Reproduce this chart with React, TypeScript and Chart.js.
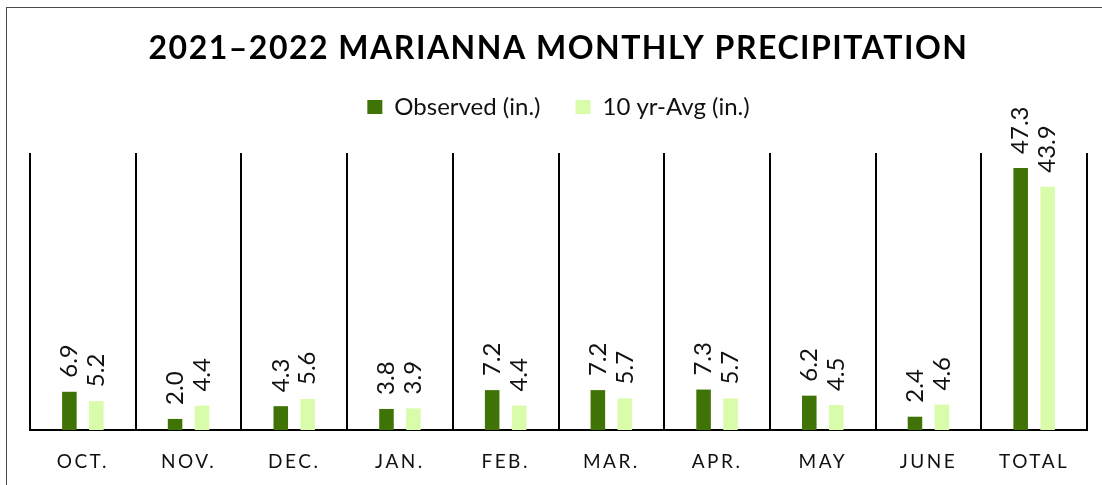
import React, { useEffect, useRef } from 'react';
import { Chart, registerables } from 'chart.js';

Chart.register(...registerables);

const TITLE = '2021–2022 MARIANNA MONTHLY PRECIPITATION';
const categories = ['OCT.', 'NOV.', 'DEC.', 'JAN.', 'FEB.', 'MAR.', 'APR.', 'MAY', 'JUNE', 'TOTAL'];
const observed = [6.9, 2.0, 4.3, 3.8, 7.2, 7.2, 7.3, 6.2, 2.4, 47.3];
const tenYearAvg = [5.2, 4.4, 5.6, 3.9, 4.4, 5.7, 5.7, 4.5, 4.6, 43.9];
const seriesNames = ['Observed (in.)', '10 yr-Avg (in.)'];
const seriesColors = ['#407305', '#d9fcab'];
const Y_MAX = 50;

const FONT = 'Lato';
const TITLE_SPACING = '1.5px';
const TICK_SPACING = '2.5px';

const framePlugin = {
  id: 'frame',
  beforeDraw(chart: any) {
    const ctx = chart.ctx;
    ctx.save();
    ctx.strokeStyle = '#4a4a4a';
    ctx.lineWidth = 1;
    ctx.strokeRect(6.5, 7.5, 1300, 700);
    ctx.restore();

    const tb = chart.titleBlock;
    if (tb && !tb._lsWrapped) {
      const orig = tb.draw.bind(tb);
      tb.draw = (...a: any[]) => {
        ctx.save();
        ctx.letterSpacing = TITLE_SPACING;
        orig(...a);
        ctx.restore();
      };
      tb._lsWrapped = true;
    }
    const xs = chart.scales.x;
    if (xs && !xs._lsWrapped) {
      const origL = xs.drawLabels.bind(xs);
      xs.drawLabels = (...a: any[]) => {
        ctx.save();
        ctx.letterSpacing = TICK_SPACING;
        origL(...a);
        ctx.restore();
      };
      xs._lsWrapped = true;
    }
  },
};

const labelPlugin = {
  id: 'barLabels',
  afterDatasetsDraw(chart: any) {
    const ctx = chart.ctx;
    chart.data.datasets.forEach((ds: any, i: number) => {
      const meta = chart.getDatasetMeta(i);
      meta.data.forEach((bar: any, j: number) => {
        const { x, y } = bar.getProps(['x', 'y'], true);
        ctx.save();
        ctx.translate(x, y - 14);
        ctx.rotate(-Math.PI / 2);
        ctx.font = `24px ${FONT}`;
        ctx.fillStyle = '#111111';
        ctx.textAlign = 'left';
        ctx.textBaseline = 'middle';
        ctx.fillText(Number(ds.data[j]).toFixed(1), 0, 0);
        ctx.restore();
      });
    });
  },
};

export default function App() {
  const ref = useRef<HTMLCanvasElement>(null);

  useEffect(() => {
    if (!ref.current) return;
    const chart = new Chart(ref.current, {
      type: 'bar',
      data: {
        labels: categories,
        datasets: [
          {
            label: seriesNames[0],
            data: observed,
            backgroundColor: seriesColors[0],
            borderWidth: 0,
            categoryPercentage: 0.51,
            barPercentage: 0.54,
          },
          {
            label: seriesNames[1],
            data: tenYearAvg,
            backgroundColor: seriesColors[1],
            borderWidth: 0,
            categoryPercentage: 0.51,
            barPercentage: 0.54,
          },
        ],
      },
      options: {
        responsive: false,
        animation: false,
        events: [],
        layout: { padding: { top: 10, left: 30, right: 15, bottom: 0 } },
        plugins: {
          tooltip: { enabled: false },
          title: {
            display: true,
            text: TITLE,
            color: '#000000',
            font: { family: FONT, size: 32, weight: 'bold', lineHeight: 1.2 },
            padding: { top: 19, bottom: -7.4 },
          },
          legend: {
            display: true,
            position: 'top',
            labels: {
              color: '#111111',
              font: { family: FONT, size: 24 },
              boxWidth: 15,
              boxHeight: 14,
              padding: 35,
            },
          },
        },
        scales: {
          x: {
            position: 'bottom',
            grid: { display: true, color: '#000000', lineWidth: 2, offset: true, drawTicks: false },
            border: { display: true, color: '#000000', width: 2 },
            ticks: {
              color: '#111111',
              font: { family: FONT, size: 19 },
              padding: 20,
              maxRotation: 0,
              autoSkip: false,
            },
            afterFit: (s: any) => {
              s.height = 55;
            },
          },
          xTop: {
            type: 'category',
            position: 'top',
            display: true,
            grid: { display: false, drawTicks: false },
            border: { display: false },
            ticks: { display: false },
            afterFit: (s: any) => {
              s.height = 24;
            },
          },
          y: {
            display: false,
            min: 0,
            max: Y_MAX,
          },
        },
      },
      plugins: [framePlugin, labelPlugin],
    });
    return () => chart.destroy();
  }, []);

  return (
    <div style={{ position: 'absolute', left: 0, top: 0, width: 1102, height: 485, background: '#ffffff' }}>
      <canvas ref={ref} width={1102} height={485} style={{ display: 'block' }} />
    </div>
  );
}
